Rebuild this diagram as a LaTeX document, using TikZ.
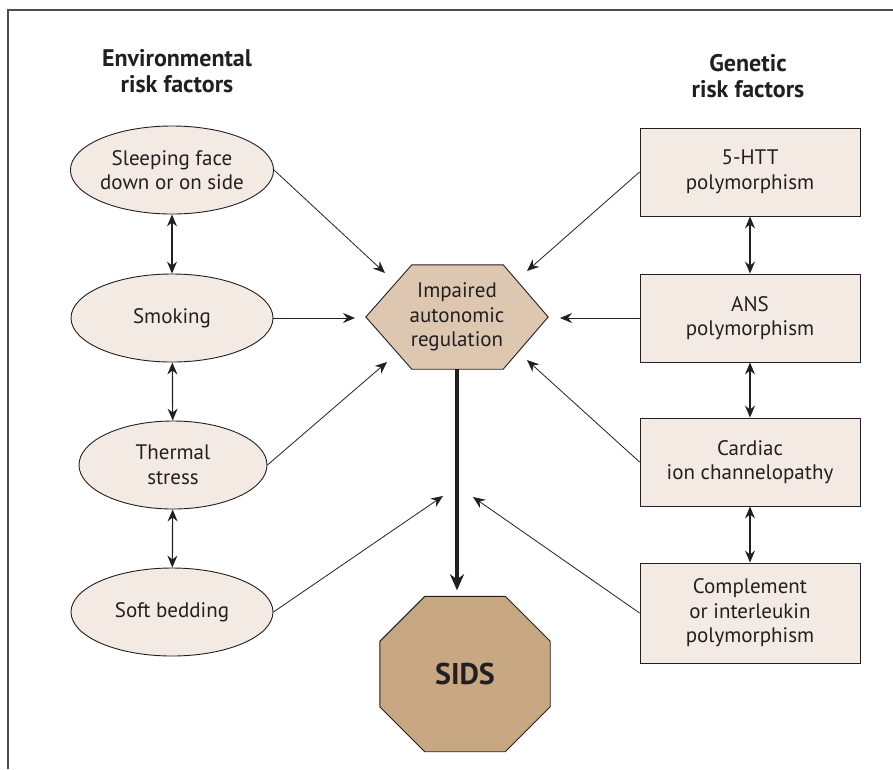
\documentclass[tikz,border=0pt]{standalone}
\usepackage{fontspec}
\setmainfont{PT Sans}
\usetikzlibrary{shapes.geometric,arrows.meta,backgrounds}
\definecolor{inkgray}{HTML}{231F20}
\definecolor{paleclay}{HTML}{F3EAE4}
\definecolor{hexclay}{HTML}{DEC7B1}
\definecolor{sidsclay}{HTML}{C8A783}
\begin{document}
\begin{tikzpicture}[x=1pt,y=-1pt,font=\fontsize{21}{24.5}\selectfont,text=inkgray,
    risk/.style={draw=inkgray,line width=0.9pt,fill=paleclay,align=center,inner sep=0pt},
    envbox/.style={risk,ellipse,minimum width=202pt,minimum height=88pt},
    genbox/.style={risk,rectangle,minimum width=220pt,minimum height=88pt},
    link/.style={draw=inkgray,line width=0.8pt,-{Stealth[length=12pt,width=10pt,inset=4pt]}},
    both/.style={draw=inkgray,line width=1.2pt,{Stealth[length=12pt,width=10pt,inset=4pt]}-{Stealth[length=12pt,width=10pt,inset=4pt]}},
    heading/.style={align=center,font=\bfseries\fontsize{24}{26.5}\selectfont}]

    \useasboundingbox (0,0) rectangle (893,769);
    \draw[draw=inkgray!80,line width=1.2pt] (8,769) -- (8,10) -- (893,10);

    % headings
    \node[heading] (envt) at (177,71) {Environmental\\risk factors};
    \node[heading] (gent) at (748,76) {Genetic\\risk factors};

    % environmental factors
    \node[envbox] (sleep) at (172,170) {Sleeping face\\down or on side};
    \node[envbox] (smoke) at (172,318) {Smoking};
    \node[envbox,minimum width=188pt] (therm) at (173,465) {Thermal\\stress};
    \node[envbox] (soft) at (172,612) {Soft bedding};

    % genetic factors
    \node[genbox] (htt) at (750,172) {5-HTT\\polymorphism};
    \node[genbox] (ans) at (750,318) {ANS\\polymorphism};
    \node[genbox] (card) at (750,462) {Cardiac\\ion channelopathy};
    \node[genbox,minimum height=100pt] (comp) at (750,613) {Complement\\or interleukin\\polymorphism};

    % centre and outcome
    \node[align=center,inner sep=0pt,minimum width=182pt,minimum height=104pt] (imp) at (457,317) {Impaired\\autonomic\\regulation};
    \node[inner sep=0pt,minimum width=170pt,minimum height=155pt,font=\bfseries\fontsize{30}{30}\selectfont] (sids) at (465,674) {SIDS};

    \scoped[on background layer]
    \filldraw[draw=inkgray,line width=0.9pt,fill=hexclay] (imp.west) -- ([xshift=46pt]imp.north west) -- ([xshift=-45pt]imp.north east)
        -- (imp.east) -- ([xshift=-45pt]imp.south east) -- ([xshift=46pt]imp.south west) -- cycle;
    \scoped[on background layer]
    \filldraw[draw=inkgray,line width=0.9pt,fill=sidsclay] ([xshift=45pt]sids.north west) -- ([xshift=-45pt]sids.north east)
        -- ([yshift=-45pt]sids.north east) -- ([yshift=45pt]sids.south east) -- ([xshift=-45pt]sids.south east)
        -- ([xshift=45pt]sids.south west) -- ([yshift=45pt]sids.south west) -- ([yshift=-45pt]sids.north west) -- cycle;

    % arrow ends round the centre
    \coordinate (e1) at (385,273);
    \coordinate (e2) at (355,318);
    \coordinate (e3) at (387,362);
    \coordinate (e4) at (443,496);
    \coordinate (g1) at (527,271);
    \coordinate (g2) at (560,318);
    \coordinate (g3) at (527,360);
    \coordinate (g4) at (473,497);

    \draw[link] (sleep.east) -- (e1);
    \draw[link] (smoke.east) -- (e2);
    \draw[link] (therm.east) -- (e3);
    \draw[link] (soft.east) -- (e4);
    \draw[link] (htt.west) -- (g1);
    \draw[link] (ans.west) -- (g2);
    \draw[link] (card.west) -- (g3);
    \draw[link] (comp.west) -- (g4);

    % links within each column
    \draw[both] (sleep) -- (smoke);
    \draw[both] (smoke) -- (therm);
    \draw[both] (therm) -- (soft);
    \draw[both] (htt) -- (ans);
    \draw[both] (ans) -- (card);
    \draw[both] (card) -- (comp);

    \draw[draw=inkgray,line width=3.5pt,shorten >=6pt,-{Stealth[length=16pt,width=14pt,inset=5pt]}] (imp.south) -- (imp.south |- sids.north);

\end{tikzpicture}
\end{document}
